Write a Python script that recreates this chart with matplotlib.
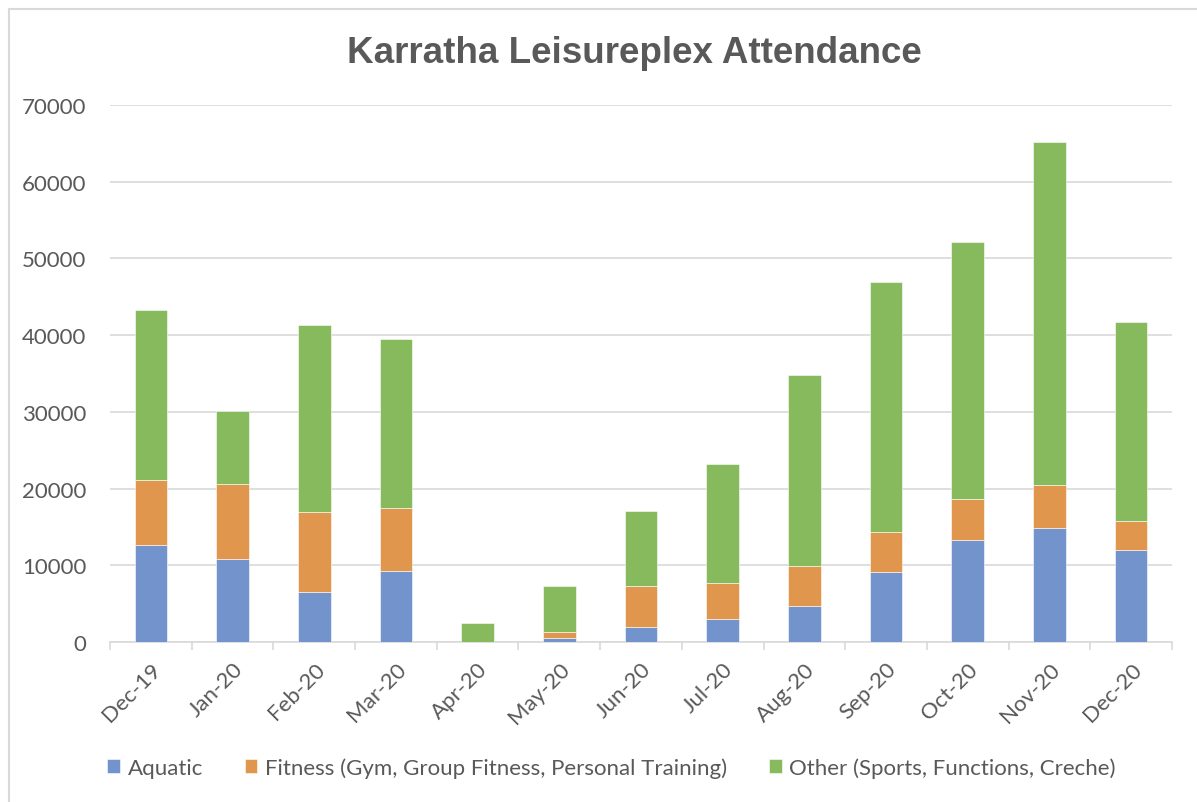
import numpy as np
import matplotlib
matplotlib.use('Agg')
import matplotlib.pyplot as plt
from matplotlib.patches import Rectangle

months = ['Dec-19', 'Jan-20', 'Feb-20', 'Mar-20', 'Apr-20', 'May-20', 'Jun-20',
          'Jul-20', 'Aug-20', 'Sep-20', 'Oct-20', 'Nov-20', 'Dec-20']
aquatic = [12700, 10800, 6550, 9240, 0, 500, 1900, 2950, 4700, 9060, 13300, 14800, 12000]
fitness = [8400, 9800, 10350, 8160, 0, 800, 5400, 4700, 5150, 5340, 5400, 5600, 3800]
other = [22200, 9500, 24400, 22100, 2500, 6000, 9800, 15500, 24900, 32550, 33400, 44800, 25900]

series_names = ['Aquatic', 'Fitness (Gym, Group Fitness, Personal Training)',
                'Other (Sports, Functions, Creche)']
colors = ['#7293CB', '#E1964D', '#87BA5D']

plt.rcParams['font.family'] = ['Lato', 'DejaVu Sans']
text_gray = '#595959'

fig = plt.figure(figsize=(11.97, 8.03), dpi=100)
ax = fig.add_axes([0.0919, 0.1993, 0.8872, 0.6687])

x = np.arange(len(months))
bottom = np.zeros(len(months))
for vals, name, c in zip([aquatic, fitness, other], series_names, colors):
    ax.bar(x, vals, width=0.4, bottom=bottom, color=c, label=name,
           edgecolor='white', linewidth=0.4, zorder=3)
    bottom += np.array(vals)

ax.set_xlim(-0.5, len(months) - 0.5)
ax.set_ylim(0, 70000)
ax.set_yticks(np.arange(0, 70001, 10000))
ax.yaxis.grid(True, color='#d9d9d9', linewidth=1.2, zorder=0)
ax.tick_params(axis='y', length=0, labelsize=16, labelcolor=text_gray, pad=17)

ax.set_xticks(x)
ax.set_xticklabels(months, rotation=45, ha='right', rotation_mode='anchor',
                   fontsize=16, color=text_gray)
ax.tick_params(axis='x', length=0, pad=12)
# category boundary ticks
ax.set_xticks(np.arange(-0.5, len(months), 1.0), minor=True)
ax.tick_params(axis='x', which='minor', length=6, color='#d9d9d9', width=1.2)

for s in ['top', 'right', 'left']:
    ax.spines[s].set_visible(False)
ax.spines['bottom'].set_color('#d9d9d9')
ax.spines['bottom'].set_linewidth(1.2)

fig.text(0.530, 0.9215, 'Karratha Leisureplex Attendance', ha='center', va='baseline',
         fontsize=26.5, fontweight='bold', color=text_gray,
         family=['Liberation Sans', 'DejaVu Sans'])

leg = fig.legend(loc='center', bbox_to_anchor=(0.511, 0.043), ncol=3, frameon=False,
                 fontsize=16, handlelength=0.55, handleheight=0.55, handletextpad=0.35,
                 columnspacing=1.9, labelcolor=text_gray)

# chart-area border (only top and left edges fall inside the image)
fig.patches.append(Rectangle((9 / 1197, -0.05), 1.1, 1 - 10 / 803 + 0.05,
                             transform=fig.transFigure, fill=False,
                             edgecolor='#d9d9d9', linewidth=1.5))

fig.savefig('out.png', dpi=100)
